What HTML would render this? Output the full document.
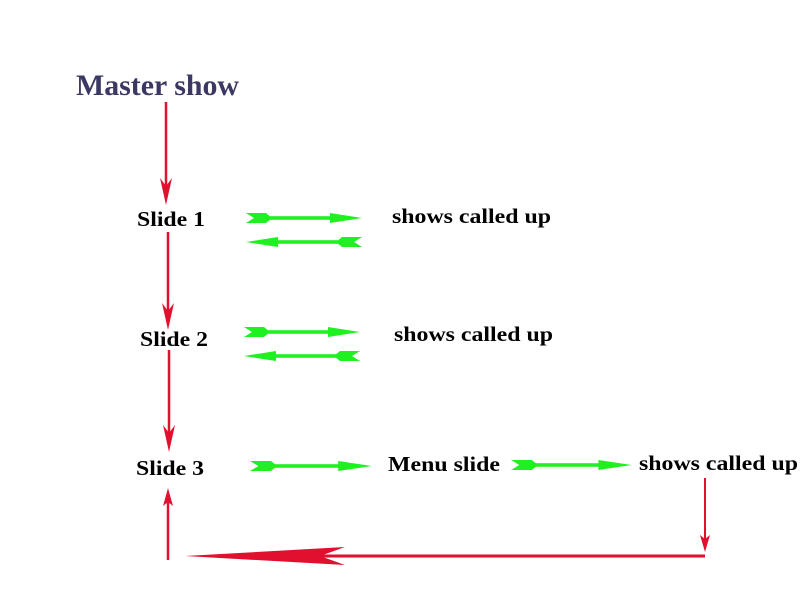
<!DOCTYPE html>
<html><head><style>body{margin:0;background:#fff}svg{display:block}</style></head><body>
<svg width="800" height="600" xmlns="http://www.w3.org/2000/svg" font-family="Liberation Serif, serif" font-weight="bold">
<defs>
<g id="gr">
<polygon points="0,-5 20,-5 26,0 20,5 0,5 8,0" fill="#1ff01f"/>
<rect x="20" y="-1.8" width="70" height="3.6" fill="#1ff01f"/>
<polygon points="84,-5 116,0 84,5" fill="#1ff01f"/>
</g>
</defs>
<text x="76" y="95" font-size="30" fill="#3b3863" textLength="163" lengthAdjust="spacingAndGlyphs">Master show</text>
<text x="137" y="226" font-size="21" textLength="68" lengthAdjust="spacingAndGlyphs">Slide 1</text>
<text x="140" y="346" font-size="21" textLength="68" lengthAdjust="spacingAndGlyphs">Slide 2</text>
<text x="136" y="475" font-size="21" textLength="68" lengthAdjust="spacingAndGlyphs">Slide 3</text>
<text x="392" y="223" font-size="21" textLength="159" lengthAdjust="spacingAndGlyphs">shows called up</text>
<text x="394" y="341" font-size="21" textLength="159" lengthAdjust="spacingAndGlyphs">shows called up</text>
<text x="388" y="471" font-size="21" textLength="112" lengthAdjust="spacingAndGlyphs">Menu slide</text>
<text x="639" y="470" font-size="21" textLength="159" lengthAdjust="spacingAndGlyphs">shows called up</text>

<use href="#gr" transform="translate(246,218)"/>
<use href="#gr" transform="translate(362,242) scale(-1,1)"/>
<use href="#gr" transform="translate(244,332)"/>
<use href="#gr" transform="translate(360,356) scale(-1,1)"/>
<use href="#gr" transform="translate(250,466) scale(1.05,1)"/>
<use href="#gr" transform="translate(511,465) scale(1.04,1)"/>

<g fill="#e0102e" stroke="#e0102e">
<line x1="166" y1="102" x2="166" y2="195" stroke-width="2.5"/>
<polygon points="160,178 166,205 172,178 166,186" stroke="none"/>
<line x1="168" y1="232" x2="168" y2="320" stroke-width="2.5"/>
<polygon points="162,303 168,330 174,303 168,311" stroke="none"/>
<line x1="169" y1="350" x2="169" y2="442" stroke-width="2.5"/>
<polygon points="163,425 169,452 175,425 169,433" stroke="none"/>
<line x1="168" y1="560" x2="168" y2="498" stroke-width="2.5"/>
<polygon points="163,506 168,488 173,506 168,502" stroke="none"/>
<line x1="705" y1="478" x2="705" y2="545" stroke-width="2"/>
<polygon points="700,535 705,552 710,535 705,539" stroke="none"/>
<line x1="320" y1="556" x2="705" y2="556" stroke-width="3"/>
<polygon points="185,556 345,547 320,556 345,565" stroke="none"/>
</g>
</svg>
</body></html>
